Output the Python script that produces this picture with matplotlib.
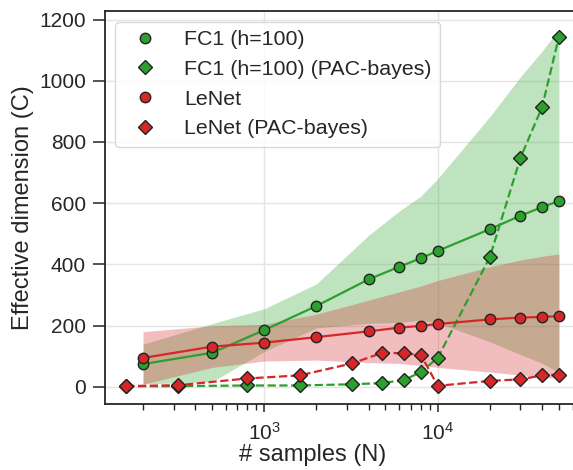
import matplotlib
matplotlib.use('Agg')
import matplotlib.pyplot as plt
from matplotlib.ticker import LogLocator, NullFormatter
import numpy as np

plt.rcParams['font.family'] = ['Liberation Sans', 'DejaVu Sans']
plt.rcParams['mathtext.fontset'] = 'custom'
plt.rcParams['mathtext.rm'] = 'Liberation Sans'
plt.rcParams['mathtext.it'] = 'Liberation Sans:italic'
plt.rcParams['mathtext.bf'] = 'Liberation Sans:bold'

# ---- data ----
n_samples = [200, 500, 1000, 2000, 4000, 6000, 8000, 10000, 20000, 30000, 40000, 50000]
fc1_mean = [74, 111, 185, 264, 351, 392, 420, 444, 515, 559, 587, 607]
fc1_std = [65, 95, 70, 72, 144, 182, 203, 236, 368, 454, 510, 561]
lenet_mean = [94, 131, 144, 162, 181, 193, 199, 205, 220, 226, 228, 231]
lenet_std = [86, 68, 60, 75, 102, 117, 130, 142, 172, 188, 198, 203]

n_pac = [160, 320, 800, 1600, 3200, 4800, 6400, 8000, 10000, 20000, 30000, 40000, 50000]
fc1_pac = [1, 2, 4, 4, 8, 12, 22, 48, 94, 424, 748, 914, 1144]
lenet_pac = [2, 5, 27, 37, 76, 111, 109, 104, 3, 19, 24, 37, 39]

labels = ['FC1 (h=100)', 'FC1 (h=100) (PAC-bayes)', 'LeNet', 'LeNet (PAC-bayes)']
green = '#2ca02c'
red = '#d62728'

W, H = 573, 470
fig = plt.figure(figsize=(W / 100, H / 100), dpi=100)
ax = fig.add_axes([104.7 / W, (H - 404) / H, (575 - 104.7) / W, (404 - 11) / H])

x = np.array(n_samples)
for mean, std, col in [(fc1_mean, fc1_std, green), (lenet_mean, lenet_std, red)]:
    m = np.array(mean, float)
    s = np.array(std, float)
    ax.fill_between(x, m - s, m + s, color=col, alpha=0.3, linewidth=0, zorder=1)

ms_c = 7.5
ms_d = 7.5
ax.plot(n_samples, fc1_mean, '-', color=green, lw=1.6, zorder=3)
ax.plot(n_samples, fc1_mean, 'o', color=green, mec='#222222', mew=1.0, ms=ms_c, ls='none', label=labels[0], zorder=4)
ax.plot(n_pac, fc1_pac, '--', color=green, lw=1.6, zorder=3)
ax.plot(n_pac, fc1_pac, 'D', color=green, mec='#222222', mew=1.0, ms=ms_d, ls='none', label=labels[1], zorder=4)
ax.plot(n_samples, lenet_mean, '-', color=red, lw=1.6, zorder=5)
ax.plot(n_samples, lenet_mean, 'o', color=red, mec='#222222', mew=1.0, ms=ms_c, ls='none', label=labels[2], zorder=6)
ax.plot(n_pac, lenet_pac, '--', color=red, lw=1.6, zorder=5)
ax.plot(n_pac, lenet_pac, 'D', color=red, mec='#222222', mew=1.0, ms=ms_d, ls='none', label=labels[3], zorder=6)

ax.set_xscale('log')
ax.set_xlim(120.2, 61900)
ax.set_ylim(-56.5, 1228)
ax.set_yticks([0, 200, 400, 600, 800, 1000, 1200])
ax.xaxis.set_minor_locator(LogLocator(base=10, subs=np.arange(2, 10)))
ax.xaxis.set_minor_formatter(NullFormatter())

ax.grid(True, which='major', color='#e5e5e5', lw=1.0, zorder=0)
ax.set_axisbelow(True)

for sp in ax.spines.values():
    sp.set_color('#262626')
    sp.set_linewidth(1.3)

ax.tick_params(axis='both', which='major', direction='out', colors='#262626', labelsize=15, width=1.1)
ax.tick_params(axis='y', which='major', length=9, pad=4.5)
ax.tick_params(axis='x', which='major', length=6, pad=7)
ax.tick_params(axis='x', which='minor', direction='out', length=4.5, width=1.0, colors='#262626')

ax.set_xlabel('# samples (N)', fontsize=17, color='#262626')
ax.xaxis.set_label_coords((313 - 104.7) / (575 - 104.7), -(444 - 404) / 393)
ax.set_ylabel('Effective dimension (C)', fontsize=17, color='#262626', labelpad=4)

leg = ax.legend(loc='upper left', fontsize=15.4, frameon=True)
leg.get_frame().set_edgecolor('#d0d0d0')
leg.get_frame().set_linewidth(1.0)
for t in leg.get_texts():
    t.set_color('#262626')

fig.savefig('out.png', dpi=100)
